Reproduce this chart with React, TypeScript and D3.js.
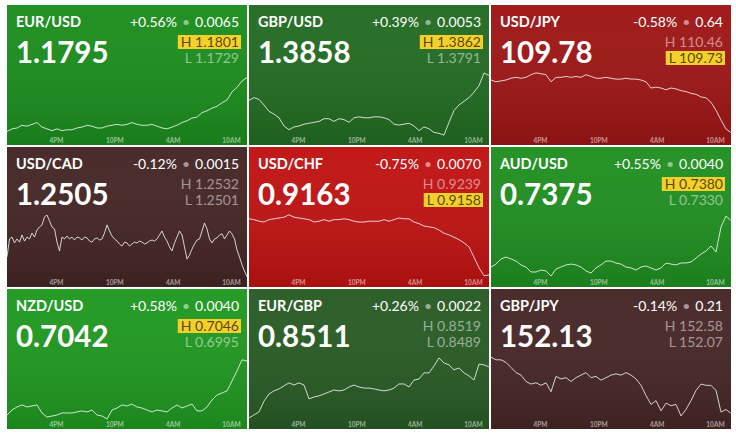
import React, { useEffect, useRef } from "react";
import * as d3 from "d3";

// ---------- data ----------
const pairs = ["EUR/USD", "GBP/USD", "USD/JPY", "USD/CAD", "USD/CHF", "AUD/USD", "NZD/USD", "EUR/GBP", "GBP/JPY"];
const lastPrices = ["1.1795", "1.3858", "109.78", "1.2505", "0.9163", "0.7375", "0.7042", "0.8511", "152.13"];
const changePct = ["+0.56%", "+0.39%", "-0.58%", "-0.12%", "-0.75%", "+0.55%", "+0.58%", "+0.26%", "-0.14%"];
const changeAbs = ["0.0065", "0.0053", "0.64", "0.0015", "0.0070", "0.0040", "0.0040", "0.0022", "0.21"];
const highs = ["1.1801", "1.3862", "110.46", "1.2532", "0.9239", "0.7380", "0.7046", "0.8519", "152.58"];
const lows = ["1.1729", "1.3791", "109.73", "1.2501", "0.9158", "0.7330", "0.6995", "0.8489", "152.07"];
const highlighted = ["H", "H", "L", "", "L", "H", "H", "", ""];

const tickHours = [16, 22, 28, 34];
const tickLabels = ["4PM", "10PM", "4AM", "10AM"];
const windowHours = [10.9, 35.6];

const eurUsd = [1.1735, 1.1738, 1.1739, 1.1742, 1.1741, 1.1743, 1.1745, 1.174, 1.1738, 1.1736, 1.1738, 1.1736, 1.1737, 1.1737, 1.1739, 1.174, 1.1742, 1.1741, 1.1739, 1.1739, 1.1741, 1.1742, 1.1743, 1.1742, 1.1743, 1.1745, 1.1743, 1.1742, 1.1742, 1.1743, 1.1741, 1.1739, 1.1738, 1.174, 1.1742, 1.1745, 1.1747, 1.175, 1.1751, 1.1756, 1.1758, 1.1761, 1.1763, 1.1767, 1.177, 1.1779, 1.1784, 1.1791, 1.1795];
const gbpUsd = [1.3831, 1.3834, 1.3832, 1.3826, 1.3819, 1.3816, 1.3812, 1.3803, 1.3799, 1.3802, 1.3803, 1.3805, 1.3806, 1.3807, 1.3808, 1.3811, 1.3811, 1.3808, 1.3811, 1.381, 1.3807, 1.3812, 1.3813, 1.3812, 1.3812, 1.3813, 1.3813, 1.3812, 1.381, 1.3805, 1.3804, 1.3805, 1.3806, 1.3803, 1.3798, 1.3802, 1.38, 1.3796, 1.3795, 1.3793, 1.3807, 1.382, 1.3826, 1.383, 1.3834, 1.384, 1.3847, 1.3861, 1.3858];
const usdJpy = [110.37, 110.35, 110.36, 110.37, 110.39, 110.4, 110.39, 110.4, 110.43, 110.45, 110.44, 110.43, 110.35, 110.4, 110.4, 110.41, 110.4, 110.41, 110.4, 110.43, 110.41, 110.39, 110.39, 110.4, 110.39, 110.38, 110.38, 110.39, 110.38, 110.38, 110.37, 110.35, 110.28, 110.29, 110.28, 110.26, 110.28, 110.27, 110.25, 110.24, 110.22, 110.21, 110.18, 110.17, 110.12, 110.03, 109.92, 109.82, 109.78];
const usdCad = [1.25115, 1.25201, 1.2521, 1.25182, 1.25201, 1.25186, 1.2522, 1.25191, 1.2521, 1.25201, 1.25229, 1.2521, 1.25244, 1.25258, 1.25268, 1.25306, 1.25315, 1.25287, 1.25258, 1.25249, 1.25186, 1.25144, 1.2521, 1.25201, 1.25215, 1.25201, 1.2521, 1.25196, 1.2521, 1.25206, 1.25196, 1.2521, 1.25206, 1.25191, 1.25186, 1.25201, 1.25206, 1.25196, 1.25201, 1.25229, 1.25268, 1.25239, 1.25215, 1.25201, 1.25191, 1.25177, 1.25167, 1.25186, 1.25182, 1.25167, 1.25177, 1.25186, 1.25182, 1.25191, 1.25186, 1.25177, 1.25182, 1.25191, 1.25196, 1.25191, 1.25201, 1.2522, 1.25239, 1.2521, 1.25191, 1.25163, 1.25144, 1.25182, 1.2521, 1.25239, 1.2522, 1.25163, 1.25105, 1.25124, 1.25153, 1.25177, 1.25196, 1.25201, 1.25239, 1.25277, 1.25249, 1.25201, 1.25182, 1.25201, 1.25206, 1.2522, 1.25225, 1.25201, 1.2522, 1.25239, 1.25225, 1.25201, 1.25148, 1.25115, 1.25077, 1.25048, 1.2502];
const usdChf = [0.9233, 0.9232, 0.923, 0.9229, 0.9232, 0.9233, 0.9234, 0.9235, 0.9238, 0.9235, 0.9234, 0.9233, 0.9232, 0.9229, 0.923, 0.9232, 0.923, 0.9232, 0.9232, 0.9233, 0.9232, 0.923, 0.9229, 0.9229, 0.923, 0.923, 0.923, 0.9232, 0.923, 0.9232, 0.9234, 0.9233, 0.9233, 0.9229, 0.9227, 0.9224, 0.9223, 0.9222, 0.9219, 0.9215, 0.9213, 0.921, 0.9207, 0.9203, 0.9198, 0.9185, 0.9172, 0.9162, 0.9163];
const audUsd = [0.73392, 0.73415, 0.73454, 0.73469, 0.73454, 0.73438, 0.73408, 0.73392, 0.73354, 0.73354, 0.73369, 0.73362, 0.73323, 0.73377, 0.73392, 0.73408, 0.73415, 0.73408, 0.73392, 0.73362, 0.73346, 0.73385, 0.73408, 0.73438, 0.73438, 0.73423, 0.73415, 0.73392, 0.73385, 0.73369, 0.73392, 0.734, 0.73385, 0.73369, 0.73385, 0.73423, 0.73415, 0.73408, 0.73423, 0.73423, 0.73431, 0.73461, 0.73492, 0.73515, 0.73554, 0.73508, 0.737, 0.73784, 0.7375];
const nzdUsd = [0.69997, 0.70036, 0.7006, 0.70076, 0.7006, 0.70068, 0.70076, 0.70013, 0.69981, 0.69989, 0.69997, 0.70013, 0.70013, 0.70013, 0.70021, 0.70029, 0.70021, 0.70036, 0.69997, 0.69989, 0.69966, 0.70036, 0.70052, 0.70076, 0.70068, 0.70083, 0.7006, 0.70052, 0.70036, 0.70021, 0.70036, 0.70029, 0.70021, 0.70052, 0.70076, 0.70052, 0.70068, 0.70083, 0.70029, 0.70029, 0.7006, 0.70115, 0.70154, 0.7017, 0.70186, 0.70264, 0.70343, 0.7043, 0.7042];
const eurGbp = [0.84904, 0.84918, 0.84932, 0.84982, 0.85015, 0.85029, 0.85038, 0.85052, 0.85066, 0.85056, 0.85066, 0.85056, 0.84992, 0.85001, 0.85006, 0.85015, 0.85024, 0.85033, 0.85029, 0.85033, 0.85047, 0.85056, 0.85047, 0.85042, 0.85042, 0.85038, 0.85033, 0.85029, 0.85033, 0.85042, 0.85061, 0.85061, 0.85047, 0.85079, 0.85084, 0.85112, 0.85112, 0.85144, 0.85181, 0.85158, 0.85149, 0.85126, 0.85135, 0.85112, 0.85098, 0.85079, 0.85153, 0.85149, 0.8514];
const gbpJpy = [152.57, 152.55, 152.55, 152.53, 152.49, 152.45, 152.43, 152.38, 152.36, 152.37, 152.35, 152.37, 152.3, 152.42, 152.4, 152.41, 152.38, 152.41, 152.43, 152.45, 152.41, 152.42, 152.39, 152.41, 152.43, 152.44, 152.43, 152.45, 152.43, 152.4, 152.35, 152.27, 152.2, 152.23, 152.15, 152.21, 152.19, 152.2, 152.11, 152.16, 152.23, 152.31, 152.36, 152.35, 152.35, 152.31, 152.14, 152.16, 152.13];
const series = [eurUsd, gbpUsd, usdJpy, usdCad, usdChf, audUsd, nzdUsd, eurGbp, gbpJpy];

// ---------- styles ----------
const tileColors = ["#1b8d1d", "#226b22", "#9e1515", "#442525", "#c01212", "#1f8f20", "#1f9820", "#285b24", "#462626"];
const FONT = "Lato, 'Open Sans', sans-serif";

export default function App() {
  const ref = useRef<SVGSVGElement>(null);
  useEffect(() => {
    const svg = d3.select(ref.current);
    svg.selectAll("*").remove();
    const W = 736, H = 434;
    const tileW = 240, tileH = 140, ox = 7, oy = 5, gap = 2;

    const defs = svg.append("defs");
    const grad = defs.append("linearGradient").attr("id", "shade").attr("x1", 0).attr("y1", 0).attr("x2", 0).attr("y2", 1);
    grad.append("stop").attr("offset", "0%").attr("stop-color", "#fff").attr("stop-opacity", 0.03);
    grad.append("stop").attr("offset", "100%").attr("stop-color", "#000").attr("stop-opacity", 0.12);

    svg.append("rect").attr("width", W).attr("height", H).attr("fill", "#fff");

    const x = d3.scaleLinear().domain(windowHours).range([0, tileW]);

    pairs.forEach((pair, i) => {
      const col = i % 3, row = Math.floor(i / 3);
      const g = svg.append("g").attr("transform", `translate(${ox + col * (tileW + gap)},${oy + row * (tileH + gap)})`);
      g.append("rect").attr("width", tileW).attr("height", tileH).attr("fill", tileColors[i]);
      g.append("rect").attr("width", tileW).attr("height", tileH).attr("fill", "url(#shade)");

      const vals = series[i];
      const y = d3.scaleLinear().domain([+lows[i], +highs[i]]).range([132, 67]);
      const t = d3.scaleLinear().domain([0, vals.length - 1]).range(windowHours);
      const line = d3.line<number>().x((_, j) => x(t(j))).y((d) => y(d));
      g.append("path").attr("d", line(vals) || "").attr("fill", "none")
        .attr("stroke", "rgba(255,255,255,0.78)").attr("stroke-width", 1).attr("stroke-linejoin", "round");

      tickHours.forEach((h, k) => {
        g.append("text").attr("x", x(h)).attr("y", 138).attr("text-anchor", "middle")
          .attr("font-family", FONT).attr("font-size", 6.5).attr("font-weight", 700)
          .attr("fill", "rgba(255,255,255,0.55)").text(tickLabels[k]);
      });

      g.append("text").attr("x", 9).attr("y", 22).attr("font-family", FONT).attr("font-size", 14.5)
        .attr("font-weight", 700).attr("fill", "#fff").text(pair);

      const ch = g.append("text").attr("x", 232).attr("y", 22).attr("text-anchor", "end")
        .attr("font-family", FONT).attr("font-size", 14).attr("fill", "#fff");
      ch.append("tspan").text(changePct[i]);
      ch.append("tspan").attr("fill", "rgba(255,255,255,0.5)").attr("dx", 5).text("\u2022");
      ch.append("tspan").attr("dx", 5).text(changeAbs[i]);

      g.append("text").attr("x", 9).attr("y", 58).attr("font-family", FONT).attr("font-size", 29.5)
        .attr("font-weight", 700).attr("fill", "#fff").text(lastPrices[i]);

      [["H", highs[i], 42], ["L", lows[i], 58]].forEach(([lab, val, by]) => {
        const on = highlighted[i] === lab;
        const txt = g.append("text").attr("x", 232).attr("y", by as number).attr("text-anchor", "end")
          .attr("font-family", FONT).attr("font-size", 14)
          .attr("fill", on ? "rgba(40,35,0,0.8)" : "rgba(255,255,255,0.5)")
          .text(`${lab} ${val}`);
        if (on) {
          const len = (txt.node() as SVGTextElement).getComputedTextLength();
          g.insert("rect", () => txt.node() as any)
            .attr("x", 232 - len - 3).attr("y", (by as number) - 12)
            .attr("width", len + 5).attr("height", 14).attr("fill", "#f6d02a");
        }
      });
    });
  }, []);
  return <svg ref={ref} width={736} height={434} style={{ position: "absolute", left: 0, top: 0, display: "block" }} />;
}
